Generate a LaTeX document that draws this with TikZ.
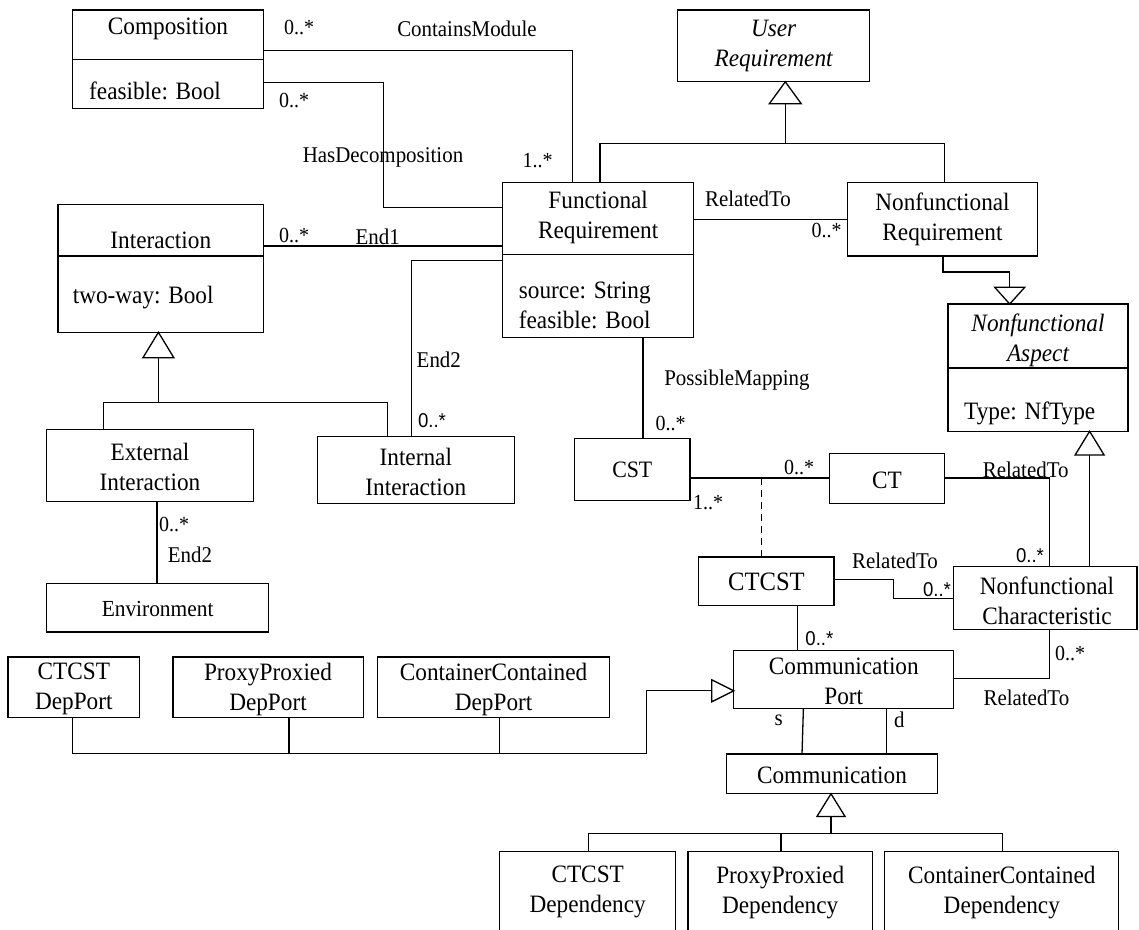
\documentclass[tikz,border=0pt]{standalone}
\usepackage{fontspec}
\setmainfont{Liberation Serif}[FakeStretch=0.93]
\newfontfamily\lsans{Liberation Sans}[FakeStretch=0.93]
\usetikzlibrary{fit}
\begin{document}
\begin{tikzpicture}[x=1pt,y=-1pt,
  cls/.style={draw, line width=1.3pt, inner sep=0pt, outer sep=0pt},
  nm/.style={inner sep=0pt, font=\fontsize{25}{30}\selectfont, align=center},
  nmi/.style={nm, font=\fontsize{25}{30}\selectfont\itshape},
  att/.style={inner sep=0pt, font=\fontsize{25}{30.5}\selectfont, anchor=west, align=left},
  lbl/.style={inner sep=0pt, font=\fontsize{22.5}{26}\selectfont},
  mul/.style={inner sep=0pt, font=\fontsize{21.5}{25}\selectfont},
  muls/.style={inner sep=0pt, font=\lsans\fontsize{20}{24}\selectfont},
  conn/.style={line width=1.3pt},
  gen/.style={draw, fill=white, line width=1.3pt, line join=miter}]
\clip (0,0) rectangle (1139,929);
\fill[white] (0,0) rectangle (1139,929);

% ---------- boxes ----------
\node[cls, fit={(72.6,10) (263.7,108.4)}] (comp) {};
\node[cls, fit={(677.8,10) (869.5,81.8)}] (ur) {};
\node[cls, fit={(502.7,182.5) (693.7,337.7)}] (fr) {};
\node[cls, fit={(847.7,182.5) (1037.3,256)}] (nfr) {};
\node[cls, fit={(948,304) (1128,431.3)}] (nfa) {};
\node[cls, fit={(58,204.4) (263.7,332.3)}] (inter) {};
\node[cls, fit={(46.5,429.5) (253.5,501.8)}] (ext) {};
\node[cls, fit={(317.4,436.6) (514.3,503.6)}] (int) {};
\node[cls, fit={(46.5,583.5) (268.8,632)}] (env) {};
\node[cls, fit={(574.6,438.4) (690,500.6)}] (cst) {};
\node[cls, fit={(829.6,453.8) (944.4,503.6)}] (ct) {};
\node[cls, fit={(698.8,556.9) (834,605.5)}] (ctcst) {};
\node[cls, fit={(953.8,566.4) (1137,629.7)}] (nc) {};
\node[cls, fit={(733.7,650.5) (953.8,708.5)}] (cp) {};
\node[cls, fit={(8,657) (139.5,717.4)}] (dp1) {};
\node[cls, fit={(172.9,657) (363.2,717.4)}] (dp2) {};
\node[cls, fit={(377.7,657) (609.5,717.4)}] (dp3) {};
\node[cls, fit={(726.4,754) (937.8,793.8)}] (comm) {};
\node[cls, fit={(499.8,851.3) (675.6,945)}] (dep1) {};
\node[cls, fit={(688,851.3) (872.4,945)}] (dep2) {};
\node[cls, fit={(884.8,851.3) (1118.7,945)}] (dep3) {};

% compartments
\draw[conn] (comp.west |- 0,59.8) -- (comp.east |- 0,59.8);
\draw[conn] (fr.west |- 0,254.7) -- (fr.east |- 0,254.7);
\draw[conn] (nfa.west |- 0,368) -- (nfa.east |- 0,368);
\draw[conn] (inter.west |- 0,256) -- (inter.east |- 0,256);

% ---------- texts ----------
\node[nm] (compT) at (168,29) {Composition};
\node[att] (compA) at (89,90.6) {feasible: Bool};
\node[nmi] (urT) at (773.6,45.6) {User\\Requirement};
\node[nm] (frT) at (598.2,217) {Functional\\Requirement};
\node[att] (frA) at (518.7,305.3) {source: String\\feasible: Bool};
\node[nm] (nfrT) at (942.5,219.2) {Nonfunctional\\Requirement};
\node[nmi] (nfaT) at (1038,340.2) {Nonfunctional\\Aspect};
\node[att] (nfaA) at (964,413.5) {Type: NfType};
\node[nm] (interT) at (160.8,240) {Interaction};
\node[att] (interA) at (72.6,298) {two-way: Bool};
\node[nm] (extT) at (150,467.4) {External\\Interaction};
\node[nm] (intT) at (415.8,471.5) {Internal\\Interaction};
\node[nm, font=\fontsize{23}{26}\selectfont] (envT) at (157.6,609) {Environment};
\node[nm, font=\fontsize{23.5}{26}\selectfont] (cstT) at (632.3,470) {CST};
\node[nm] (ctT) at (887,480) {CT};
\node[nm, font=\fontsize{26.5}{30}\selectfont] (ctcstT) at (766.4,581.7) {CTCST};
\node[nm] (ncT) at (1047,600.6) {Nonfunctional\\Characteristic};
\node[nm] (cpT) at (843.8,681.5) {Communication\\Port};
\node[nm] (dp1T) at (73.8,689) {CTCST\\DepPort};
\node[nm] (dp2T) at (268,689) {ProxyProxied\\DepPort};
\node[nm] (dp3T) at (493.6,689) {ContainerContained\\DepPort};
\node[nm] (commT) at (832,775) {Communication};
\node[nm] (dep1T) at (587.7,892.2) {CTCST\\Dependency};
\node[nm] (dep2T) at (780.2,892.2) {ProxyProxied\\Dependency};
\node[nm] (dep3T) at (1001.8,892.2) {ContainerContained\\Dependency};

% ---------- connectors ----------
% ContainsModule
\draw[conn] (comp.east |- 0,50.4) -| (fr.north -| 572.4,0);
\node[mul] (m1) at (299,27.8) {0..*};
\node[lbl] (l1) at (467,28.4) {ContainsModule};
\node[mul] (m2) at (537.5,161) {1..*};
% HasDecomposition
\draw[conn] (comp.east |- 0,82.3) -| (383.6,207.3) -- (fr.west |- 0,207.3);
\node[mul] (m3) at (294,100.7) {0..*};
\node[lbl] (l2) at (383,157) {HasDecomposition};
% User requirement generalization
\coordinate (urA) at (ur.south -| 785.3,0);
\draw[conn] (fr.north -| 600,0) |- (944.4,143.4) -- (nfr.north -| 944.4,0);
\draw[conn] (785.3,143.4) -- (785.3,103.8);
\draw[gen] (urA) -- ++(-16,22) -- ++(32,0) -- cycle;
% FR -- NFR
\draw[conn] (fr.east |- 0,219.2) -- (nfr.west |- 0,219.2);
\node[lbl] (l3) at (748,199) {RelatedTo};
\node[mul] (m4) at (826.7,230.5) {0..*};
% NFR -> NFA
\coordinate (nfaA1) at (nfa.north -| 1009.7,0);
\draw[conn] (nfr.south -| 943,0) |- (1009.7,272) -- (1009.7,287.3);
\draw[gen] (nfaA1) -- ++(-15,-16.7) -- ++(30,0) -- cycle;
% End1
\draw[conn] (inter.east |- 0,245.9) -- (fr.west |- 0,245.9);
\node[mul] (m5) at (294,235) {0..*};
\node[lbl] (l4) at (377.7,236.4) {End1};
% End2
\draw[conn] (fr.west |- 0,260.7) -| (int.north -| 411.2,0);
\node[lbl] (l5) at (438.8,359.6) {End2};
\node[muls] (m6) at (432,420.6) {0..*};
% Interaction generalization
\coordinate (intA) at (inter.south -| 158.4,0);
\draw[conn] (ext.north -| 103.2,0) |- (387.2,402.8) -- (int.north -| 387.2,0);
\draw[conn] (158.4,402.8) -- (158.4,357.8);
\draw[gen] (intA) -- ++(-15.5,25.5) -- ++(31,0) -- cycle;
% External -- Environment
\draw[conn] (ext.south -| 157,0) -- (env.north -| 157,0);
\node[mul] (m7) at (174,524) {0..*};
\node[lbl] (l6) at (190,554.5) {End2};
% PossibleMapping
\draw[conn] (fr.south -| 643,0) -- (cst.north -| 643,0);
\node[lbl] (l7) at (737,379.7) {PossibleMapping};
\node[mul] (m8) at (670.5,423.6) {0..*};
% CST -- CT
\draw[conn] (cst.east |- 0,478) -- (ct.west |- 0,478);
\node[mul] (m9) at (799,467.4) {0..*};
\node[mul] (m10) at (708,502.4) {1..*};
\draw[conn, dash pattern=on 7pt off 5pt] (761.3,478) -- (ctcst.north -| 761.3,0);
% CT -- NC
\draw[conn] (ct.east |- 0,478) -| (nc.north -| 1049.7,0);
\node[lbl] (l8) at (1025.7,469.8) {RelatedTo};
\node[muls] (m11) at (1030,555.7) {0..*};
% NFA -> NC generalization
\coordinate (nfaB) at (nfa.south -| 1089.6,0);
\draw[conn] (nc.north -| 1089.6,0) -- (1089.6,455);
\draw[gen] (nfaB) -- ++(-14.5,23.7) -- ++(29,0) -- cycle;
% CTCST -- NC
\draw[conn] (ctcst.east |- 0,579.4) -| (893.5,598.3) -- (nc.west |- 0,598.3);
\node[lbl] (l9) at (895,560.4) {RelatedTo};
\node[muls] (m12) at (937,590) {0..*};
% CTCST -- CP
\draw[conn] (ctcst.south -| 797.6,0) -- (cp.north -| 797.6,0);
\node[muls] (m13) at (819.4,638.6) {0..*};
% NC -- CP
\draw[conn] (nc.south -| 1049.7,0) |- (cp.east |- 0,678.3);
\node[mul] (m14) at (1070,653.4) {0..*};
\node[lbl] (l10) at (1026.4,698) {RelatedTo};
% DepPort generalization
\coordinate (cpA) at (cp.west |- 0,690.8);
\draw[conn] (dp1.south -| 72.6,0) |- (646.5,753.6) |- (712,690.8);
\draw[conn] (dp2.south -| 289,0) -- (289,753.6);
\draw[conn] (dp3.south -| 499.8,0) -- (499.8,753.6);
\draw[gen] (cpA) -- ++(-22,-11) -- ++(0,22) -- cycle;
% s / d
\draw[conn] (cp.south -| 803.4,0) -- (comm.north -| 802,0);
\draw[conn] (cp.south -| 886.3,0) -- (comm.north -| 886.3,0);
\node[lbl] (l11) at (778.7,719.8) {s};
\node[lbl] (l12) at (899.3,719.8) {d};
% Communication generalization
\coordinate (commA) at (comm.south -| 831,0);
\draw[line width=2.6pt] (831,816.4) -- (831,834);
\draw[conn] (dep1.north -| 588.4,0) |- (1002.5,833.5) -- (dep3.north -| 1002.5,0);
\draw[conn] (781,833.5) -- (dep2.north -| 781,0);
\draw[gen] (commA) -- ++(-14,22.6) -- ++(28,0) -- cycle;
\end{tikzpicture}
\end{document}
